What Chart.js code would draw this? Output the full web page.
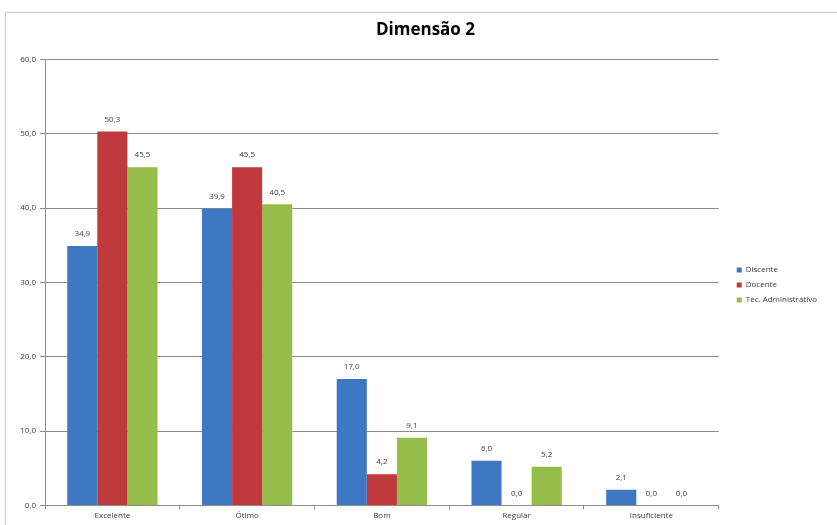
<!DOCTYPE html>
<html>
<head>
<meta charset="utf-8">
<script src="https://cdn.jsdelivr.net/npm/chart.js@4/dist/chart.umd.min.js"></script>
<style>
  html, body { margin: 0; padding: 0; background: #fff; }
  #frame {
    position: absolute; left: 5px; top: 12px; width: 831px; height: 512px;
    border: 1px solid #d4d4d4; box-shadow: 0 0 2px rgba(0,0,0,0.12); background: #fff;
  }
  #frame canvas { display: block; }
</style>
</head>
<body>
<div id="frame"><canvas id="c" width="831" height="512"></canvas></div>
<script>
const categories = ['Excelente', 'Ótimo', 'Bom', 'Regular', 'Insuficiente'];
const discente = [34.9, 39.9, 17.0, 6.0, 2.1];
const docente = [50.3, 45.5, 4.2, 0.0, 0.0];
const tecAdm = [45.5, 40.5, 9.1, 5.2, 0.0];
const seriesNames = ['Discente', 'Docente', 'Téc. Administrativo'];
const yTicks = [0, 10, 20, 30, 40, 50, 60];

const fmt = v => v.toFixed(1).replace('.', ',');
const FONT = 'Open Sans';
const PAD_RIGHT = 21;

// value labels above each bar
const valueLabels = {
  id: 'valueLabels',
  afterDatasetsDraw(chart) {
    const ctx = chart.ctx;
    ctx.save();
    ctx.font = '8px "' + FONT + '"';
    ctx.fillStyle = '#404040';
    ctx.textAlign = 'center';
    ctx.textBaseline = 'bottom';
    chart.data.datasets.forEach((ds, i) => {
      chart.getDatasetMeta(i).data.forEach((bar, j) => {
        ctx.fillText(fmt(ds.data[j]), bar.x, bar.y - 8);
      });
    });
    ctx.restore();
  }
};

// nudge the legend away from the plot, and recentre the title on the full width
const blockOffsets = {
  id: 'blockOffsets',
  afterLayout(chart) {
    const lg = chart.legend;
    if (lg) {
      lg.left += 11; lg.right += 11;
      lg.top += 17; lg.bottom += 17;
    }
    const tb = chart.titleBlock;
    if (tb) {
      tb.left += PAD_RIGHT / 2 + 4; tb.right += PAD_RIGHT / 2 + 4;
    }
  }
};

new Chart(document.getElementById('c'), {
  type: 'bar',
  data: {
    labels: categories,
    datasets: [
      { label: seriesNames[0], data: discente, backgroundColor: '#3f78c2' },
      { label: seriesNames[1], data: docente, backgroundColor: '#c0393c' },
      { label: seriesNames[2], data: tecAdm, backgroundColor: '#96bd4b' }
    ]
  },
  options: {
    responsive: false,
    animation: false,
    devicePixelRatio: 1,
    categoryPercentage: 0.67,
    barPercentage: 1,
    layout: { padding: { left: 0, right: PAD_RIGHT, top: 0, bottom: 2 } },
    plugins: {
      title: {
        display: true,
        text: 'Dimensão 2',
        color: '#000',
        font: { family: FONT, size: 17, weight: 'bold' },
        padding: { top: 7, bottom: 19 }
      },
      legend: {
        position: 'right',
        align: 'center',
        labels: {
          boxWidth: 5,
          boxHeight: 5,
          padding: 7,
          color: '#404040',
          font: { family: FONT, size: 8 }
        }
      },
      tooltip: { enabled: false }
    },
    scales: {
      x: {
        grid: { offset: true, drawOnChartArea: false, drawTicks: true, tickLength: 4, color: '#8c8c8c' },
        border: { color: '#8c8c8c' },
        ticks: { color: '#404040', font: { family: FONT, size: 8 }, padding: 2, maxRotation: 0 }
      },
      y: {
        min: 0, max: 60,
        afterBuildTicks(s) { s.ticks = yTicks.map(v => ({ value: v })); },
        afterFit(s) { s.width = 39; },
        grid: { color: '#8c8c8c', tickLength: 5 },
        border: { color: '#8c8c8c' },
        ticks: {
          color: '#404040', font: { family: FONT, size: 8 }, padding: 4,
          callback: v => fmt(v)
        }
      }
    }
  },
  plugins: [valueLabels, blockOffsets]
});
</script>
</body>
</html>
